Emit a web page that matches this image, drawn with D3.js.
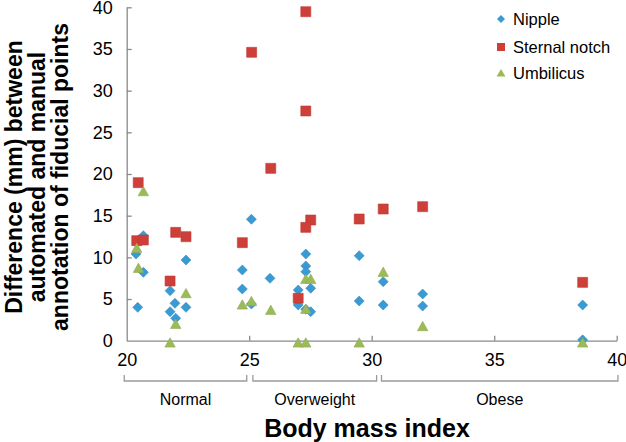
<!DOCTYPE html>
<html><head><meta charset="utf-8">
<script src="https://cdn.jsdelivr.net/npm/d3@7"></script>
<style>body{margin:0;background:#fff;} svg{display:block;}</style>
</head><body>
<svg id="c" width="626" height="442"></svg>
<script>
// ---- data ----
const seriesNames = ["Nipple", "Sternal notch", "Umbilicus"];
const nippleBMI = [20.68,20.38,20.68,20.45,22.42,21.77,21.97,22.42,21.77,22.0,25.09,24.72,24.72,25.09,25.85,27.31,27.31,27.31,27.51,27.0,27.0,27.31,27.51,29.49,29.49,30.47,30.47,32.08,32.08,38.61,38.61];
const nippleVal = [12.6,10.4,8.2,4.0,9.68,6.0,4.49,4.0,3.48,2.69,14.57,8.48,6.2,4.4,7.49,10.4,8.96,8.28,6.29,6.08,4.28,3.77,3.48,10.2,4.76,7.08,4.28,5.6,4.16,4.28,0.1];
const sternalBMI = [25.10,27.31,27.31,25.88,20.47,20.41,20.68,22.0,22.42,21.77,24.72,27.51,27.31,27.0,29.49,30.47,32.08,38.61];
const sternalVal = [34.6,39.47,27.56,20.68,18.96,12.0,12.08,13.0,12.48,7.16,11.76,14.48,13.6,5.09,14.6,15.8,16.08,7.0];
const umbBMI = [20.68,20.41,20.48,22.42,22.0,21.77,24.72,25.09,25.88,27.31,27.51,27.31,27.0,27.31,29.49,30.47,32.08,38.61];
const umbVal = [18.16,11.36,8.96,5.92,2.24,0,4.56,4.97,3.92,7.64,7.64,4.04,0,0,0,8.48,1.97,0];
const yTicks = [0,5,10,15,20,25,30,35,40];
const xTicks = [20,25,30,35,40];
const groupLabels = ["Normal","Overweight","Obese"];
const groupFrom = [19.9,25.15,30.4];
const groupTo = [24.9,30.2,40.05];
const yTitleLines = ["Difference (mm) between","automated and manual","annotation of fiducial points"];
const xTitle = "Body mass index";

// ---- layout ----
const L = 126.7, R = 616.7, T = 7.3, B = 340.7;
const colors = ["#3a9ad3", "#cf3f39", "#9bbb59"];
const axisColor = "#8a8a8a";
const font = "Liberation Sans, Arial, sans-serif";

const svg = d3.select("#c");
const x = d3.scaleLinear().domain([20,40]).range([L,R]);
const y = d3.scaleLinear().domain([0,40]).range([B,T]);

// axes
const yAxis = svg.append("g").attr("transform",`translate(${L},0)`)
  .call(d3.axisLeft(y).tickValues(yTicks).tickSizeInner(-5).tickSizeOuter(0).tickPadding(14));
const xAxis = svg.append("g").attr("transform",`translate(0,${B})`)
  .call(d3.axisBottom(x).tickValues(xTicks).tickSizeInner(-5).tickSizeOuter(0).tickPadding(13));
[yAxis,xAxis].forEach(g=>{
  g.select(".domain").attr("stroke",axisColor).attr("stroke-width",1.3);
  g.selectAll(".tick line").attr("stroke",axisColor).attr("stroke-width",1.3);
  g.selectAll(".tick text").attr("font-family",font).attr("font-size",18).attr("fill","#000");
});
xAxis.selectAll(".tick").filter(d=>d===20).select("line").remove();
yAxis.selectAll(".tick").filter(d=>d===0).select("line").remove();
xAxis.selectAll(".tick text").attr("dy","0.71em");

// markers
const diamond = s => `M0,${-s}L${s},0L0,${s}L${-s},0Z`;
const square = s => `M${-s},${-s}H${s}V${s}H${-s}Z`;
const triangle = s => `M0,${-s*0.95+2}L${s},${s*0.85+2}L${-s},${s*0.85+2}Z`;

function drawSeries(xs, ys, pathStr, color){
  svg.append("g").selectAll("path").data(xs.map((v,i)=>({x:v,y:ys[i]}))).join("path")
    .attr("d", pathStr)
    .attr("transform", d=>`translate(${x(d.x)},${y(d.y)})`)
    .attr("fill", color)
    .attr("stroke", d3.color(color).darker(0.25))
    .attr("stroke-width", 0.6);
}
drawSeries(nippleBMI, nippleVal, diamond(5), colors[0]);
drawSeries(sternalBMI, sternalVal, square(5), colors[1]);
drawSeries(umbBMI, umbVal, triangle(5.2), colors[2]);

// legend
const legY = [19, 47, 73];
const legShapes = [diamond(4), square(4), `M0,-4L4.5,3.5L-4.5,3.5Z`];
seriesNames.forEach((n,i)=>{
  svg.append("path").attr("d",legShapes[i]).attr("transform",`translate(501,${legY[i]})`)
    .attr("fill",colors[i]);
  svg.append("text").attr("x",513).attr("y",legY[i]).attr("dy","0.35em")
    .attr("font-family",font).attr("font-size",16.5).attr("fill","#000").text(n);
});

// BMI group brackets
const bracketY = 381, bracketH = 6;
groupLabels.forEach((lab,i)=>{
  const x0 = x(groupFrom[i]), x1 = x(groupTo[i]);
  svg.append("path").attr("d",`M${x0},${bracketY-bracketH}V${bracketY}H${x1}V${bracketY-bracketH}`)
    .attr("fill","none").attr("stroke","#9a9a9a").attr("stroke-width",1.3);
  svg.append("text").attr("x",(x0+x1)/2).attr("y",399).attr("dy","0.35em")
    .attr("text-anchor","middle").attr("font-family",font).attr("font-size",16).attr("fill","#000").text(lab);
});

// titles
svg.append("text").attr("x",367).attr("y",437).attr("text-anchor","middle")
  .attr("font-family",font).attr("font-weight","bold").attr("font-size",25).attr("fill","#000").text(xTitle);
const yt = svg.append("text").attr("transform",`translate(0,${(T+B)/2+3}) rotate(-90)`)
  .attr("text-anchor","middle").attr("font-family",font).attr("font-weight","bold").attr("font-size",23).attr("fill","#000");
yTitleLines.forEach((t,i)=>{
  yt.append("tspan").attr("x",0).attr("y",22+i*23).text(t);
});
</script>
</body></html>
